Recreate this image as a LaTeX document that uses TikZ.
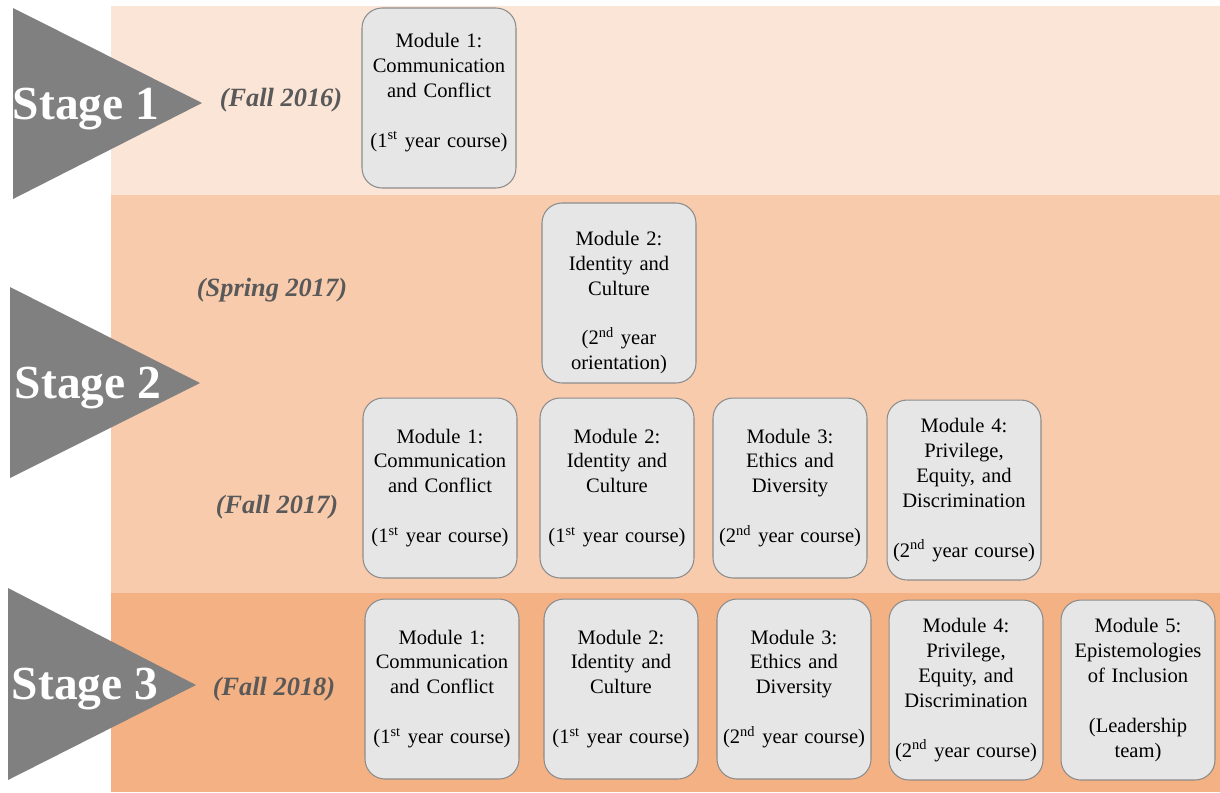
\documentclass[tikz,border=0pt]{standalone}
\usepackage{fontspec}
\setmainfont{Liberation Serif}
\usepackage{xcolor}
\usepackage{tikz}
\usetikzlibrary{positioning}
\definecolor{bandone}{RGB}{251,229,214}
\definecolor{bandtwo}{RGB}{248,203,173}
\definecolor{bandthree}{RGB}{244,177,131}
\definecolor{stagegray}{RGB}{128,128,128}
\definecolor{boxfill}{RGB}{231,230,230}
\definecolor{boxframe}{RGB}{140,140,140}
\definecolor{datetext}{RGB}{89,89,89}
\newcommand{\modgap}{\\[\baselineskip]}
\tikzset{
  module/.style={rectangle, draw=boxframe, fill=boxfill,
    minimum width=3.08cm, minimum height=3.6cm, text width=3.0cm,
    align=center, rounded corners=0.4cm, line width=0.6pt,
    font=\fontsize{11.7}{14.2}\selectfont, inner sep=0pt},
  stagelabel/.style={text=white, anchor=base,
    font=\fontsize{27}{30}\selectfont\bfseries},
  datelabel/.style={text=datetext, anchor=base,
    font=\fontsize{15}{18}\selectfont\bfseries\itshape},
  stagearrow/.style={fill=stagegray}
}

\begin{document}
\begin{tikzpicture}[x=0.02cm, y=-0.02cm]
  \useasboundingbox (0,0) rectangle (1220,792);

  % Bands
  \fill[bandone] (111,6) rectangle (1220,195);
  \fill[bandtwo] (111,195) rectangle (1220,593);
  \fill[bandthree] (111,593) rectangle (1220,792);

  % Stage arrows
  \fill[stagearrow] (13,8) -- (202,103) -- (13,199) -- cycle;
  \fill[stagearrow] (10,287) -- (200,383) -- (10,478) -- cycle;
  \fill[stagearrow] (8,588) -- (196,685) -- (8,780) -- cycle;
  \node[stagelabel] (st1) at (86,119) {Stage 1};
  \node[stagelabel] (st2) at (88,398) {Stage 2};
  \node[stagelabel] (st3) at (85,699) {Stage 3};

  % Terms
  \node[datelabel] (fall16) at (281,106) {(Fall 2016)};
  \node[datelabel] (spring17) at (272,296) {(Spring 2017)};
  \node[datelabel] (fall17) at (277,513) {(Fall 2017)};
  \node[datelabel] (fall18) at (274,695) {(Fall 2018)};

  % Stage 1
  \node[module] (a1) at (439,98) {Module 1:\\ Communication\\ and Conflict\modgap (1\textsuperscript{st} year course)\rule[-9pt]{0pt}{9pt}};

  % Stage 2
  \node[module] (b2) at (619,293) {Module 2:\rule{0pt}{19pt}\\ Identity and\\ Culture\modgap (2\textsuperscript{nd} year\\ orientation)};
  \node[module] (c1) at (440,488) {Module 1:\\ Communication\\ and Conflict\modgap (1\textsuperscript{st} year course)};
  \node[module] (c2) at (617,488) {Module 2:\\ Identity and\\ Culture\modgap (1\textsuperscript{st} year course)};
  \node[module] (c3) at (790,488) {Module 3:\\ Ethics and\\ Diversity\modgap (2\textsuperscript{nd} year course)};
  \node[module] (c4) at (964,490) {Module 4:\\ Privilege,\\ Equity, and\\ Discrimination\modgap (2\textsuperscript{nd} year course)};

  % Stage 3
  \node[module] (d1) at (442,689) {Module 1:\\ Communication\\ and Conflict\modgap (1\textsuperscript{st} year course)};
  \node[module] (d2) at (621,689) {Module 2:\\ Identity and\\ Culture\modgap (1\textsuperscript{st} year course)};
  \node[module] (d3) at (794,689) {Module 3:\\ Ethics and\\ Diversity\modgap (2\textsuperscript{nd} year course)};
  \node[module] (d4) at (966,690) {Module 4:\\ Privilege,\\ Equity, and\\ Discrimination\modgap (2\textsuperscript{nd} year course)};
  \node[module] (d5) at (1138,690) {Module 5:\\ Epistemologies\\ of Inclusion\modgap (Leadership\\ team)};
\end{tikzpicture}
\end{document}
